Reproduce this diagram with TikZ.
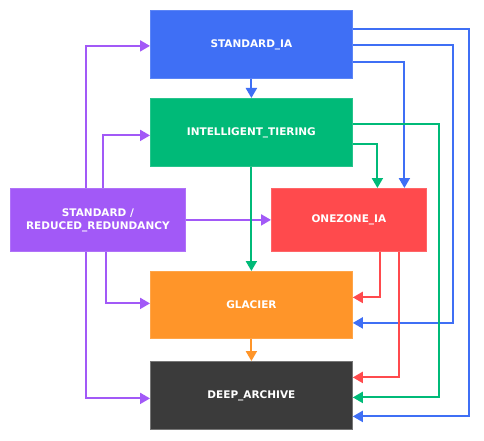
\documentclass[tikz,border=0pt]{standalone}
\usepackage{fontspec}
\setmainfont{DejaVu Sans}
\usetikzlibrary{arrows.meta}
\definecolor{cblue}{HTML}{3F6FF5}
\definecolor{cgreen}{HTML}{00BA78}
\definecolor{cred}{HTML}{FF4A4D}
\definecolor{corange}{HTML}{FF9529}
\definecolor{cdark}{HTML}{3B3B3B}
\definecolor{cpurple}{HTML}{A259F7}
\tikzset{
  box/.style={rectangle, inner sep=0pt, anchor=north west, text=white, align=center,
    font=\fontsize{10.5}{13}\selectfont\bfseries, line width=0.8pt},
  conn/.style={line width=2pt, -{Triangle[length=10pt,width=11pt]}},
}
\begin{document}
\begin{tikzpicture}[x=1pt,y=-1pt]
\fill[white] (0,0) rectangle (484,441);
\useasboundingbox (0,0) rectangle (484,441);
\node[box, fill=cblue, draw=cblue!85!white, minimum width=202pt, minimum height=68pt] (sia) at (150,10) {STANDARD\_IA};
\node[box, fill=cgreen, draw=cgreen!85!white, minimum width=202pt, minimum height=68pt] (it) at (150,98) {INTELLIGENT\_TIERING};
\node[box, fill=cpurple, draw=cpurple!85!white, minimum width=175pt, minimum height=63pt] (srr) at (10,188) {STANDARD /\\REDUCED\_REDUNDANCY};
\node[box, fill=cred, draw=cred!85!white, minimum width=155pt, minimum height=63pt] (oz) at (271,188) {ONEZONE\_IA};
\node[box, fill=corange, draw=corange!85!white, minimum width=202pt, minimum height=67pt] (gl) at (150,271) {GLACIER};
\node[box, fill=cdark, draw=cdark!70!white, minimum width=202pt, minimum height=68pt] (da) at (150,361) {DEEP\_ARCHIVE};

% purple
\draw[conn, cpurple] ([xshift=-11.5pt]srr.north) |- ([yshift=-1.5pt]sia.west);
\draw[conn, cpurple] ([xshift=5.5pt]srr.north) |- ([yshift=-3pt]it.west);
\draw[conn, cpurple] (srr.east) -- (oz.west);
\draw[conn, cpurple] ([xshift=8.5pt]srr.south) |- ([yshift=1.5pt]gl.west);
\draw[conn, cpurple] ([xshift=-11.5pt]srr.south) |- ([yshift=-3pt]da.west);
% blue
\draw[conn, cblue] (sia.south) -- (it.north);
\draw[conn, cblue] ([yshift=15pt]sia.east) -- ++(116,0) |- ([yshift=-21pt]da.east);
\draw[conn, cblue] ([yshift=-1pt]sia.east) -- ++(100,0) |- ([yshift=-18pt]gl.east);
\draw[conn, cblue] ([yshift=-18pt]sia.east) -| ([xshift=55.5pt]oz.north);
% green
\draw[conn, cgreen] ([yshift=8pt]it.east) -- ++(86,0) |- ([yshift=-2pt]da.east);
\draw[conn, cgreen] ([yshift=-12pt]it.east) -| ([xshift=28.5pt]oz.north);
\draw[conn, cgreen] (it.south) -- (gl.north);
% red
\draw[conn, cred] ([xshift=31.5pt]oz.south) |- ([yshift=7.5pt]gl.east);
\draw[conn, cred] ([xshift=50.5pt]oz.south) |- ([yshift=18pt]da.east);
% orange
\draw[conn, corange] (gl.south) -- (da.north);
\end{tikzpicture}
\end{document}
